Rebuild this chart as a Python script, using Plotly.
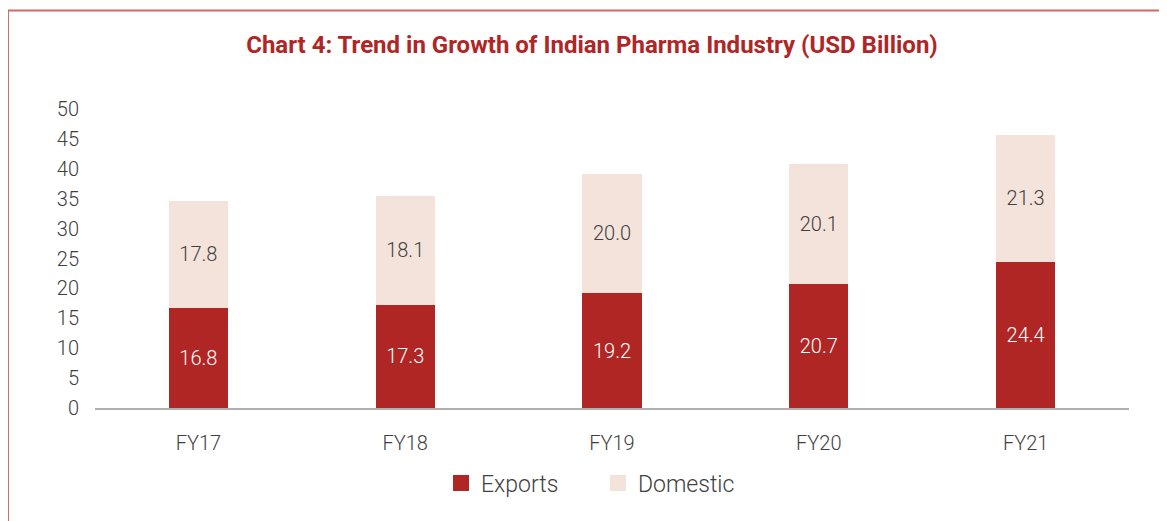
import plotly.graph_objects as go

categories = ["FY17", "FY18", "FY19", "FY20", "FY21"]
exports = [16.8, 17.3, 19.2, 20.7, 24.4]
domestic = [17.8, 18.1, 20.0, 20.1, 21.3]
y_ticks = [0, 5, 10, 15, 20, 25, 30, 35, 40, 45, 50]
series_names = ["Exports", "Domestic"]
series_colors = ["#AF2624", "#F4E3DB"]

OFF = 8  # page body margin
W, H = 1167 - OFF, 521 - OFF
# target plot area in screenshot pixels
PL, PR, PT, PB = 95, 1129, 109, 408
ML, MR = PL - OFF, (W + OFF) - PR
MT, MB = PT - OFF, (H + OFF) - PB
pw, ph = W - ML - MR, H - MT - MB

def px2x(px):
    return (px - PL) / pw

def px2y(py):
    return (PB - py) / ph

lbl_font = dict(family="Roboto", size=20, weight=300)

fig = go.Figure()
fig.add_trace(go.Bar(
    x=categories, y=exports, name=series_names[0], showlegend=False,
    marker=dict(color=series_colors[0], line=dict(width=0)),
    texttemplate="%{y:.1f}", textposition="inside", insidetextanchor="middle",
    textfont=dict(color="white", **lbl_font), textangle=0,
))
fig.add_trace(go.Bar(
    x=categories, y=domestic, name=series_names[1], showlegend=False,
    marker=dict(color=series_colors[1], line=dict(width=0)),
    texttemplate="%{y:.1f}", textposition="inside", insidetextanchor="middle",
    textfont=dict(color="#404040", **lbl_font), textangle=0,
))
# legend proxies with larger square symbols
for nm, col in zip(series_names, series_colors):
    fig.add_trace(go.Scatter(
        x=[None], y=[None], mode="markers", name=nm,
        marker=dict(symbol="square", size=17, color=col, line=dict(width=0)),
    ))

fig.update_layout(
    width=W, height=H,
    barmode="stack", bargap=0.714,
    margin=dict(l=ML, r=MR, t=MT, b=MB),
    paper_bgcolor="white", plot_bgcolor="white",
    title=dict(text="<b>Chart 4: Trend in Growth of Indian Pharma Industry (USD Billion)</b>",
               x=px2x(592), xref="paper", xanchor="center",
               y=1 - (45 - OFF) / H, yanchor="middle",
               font=dict(family="Roboto", size=24, color="#B02626")),
    showlegend=True,
    legend=dict(orientation="h", x=px2x(598), xanchor="center", y=px2y(483), yanchor="middle",
                font=dict(family="Roboto", size=23, color="#404040", weight=300),
                itemsizing="trace", traceorder="normal", itemwidth=30,
                entrywidth=112, entrywidthmode="pixels"),
    uniformtext=dict(mode=False),
)
fig.update_xaxes(showline=True, linecolor="#B0B0B0", linewidth=1.5, showgrid=False,
                 ticks="", tickfont=dict(family="Roboto", size=20, color="#404040", weight=300),
                 ticklabelstandoff=16)
fig.update_yaxes(range=[0, 50], tickvals=y_ticks, showgrid=False, zeroline=False, showline=False,
                 ticks="", tickfont=dict(family="Roboto", size=20, color="#404040", weight=300),
                 ticklabelstandoff=15)

fig.add_shape(type="rect", xref="paper", yref="paper",
              x0=px2x(8), x1=px2x(1185), y0=px2y(545), y1=px2y(10.5),
              line=dict(color="#D06A68", width=2), fillcolor="rgba(0,0,0,0)", layer="below")

fig.write_html("out.html")
